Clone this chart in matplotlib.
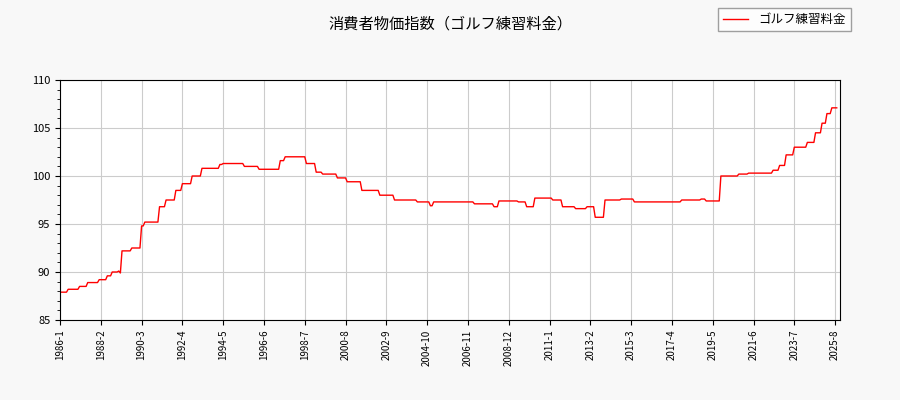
import numpy as np
import matplotlib
matplotlib.use('Agg')
import matplotlib.pyplot as plt

plt.rcParams['font.family'] = ['Noto Sans CJK JP', 'DejaVu Sans']

# 値が変わった月 (年, 月) と指数値
change_months = [(1986,1),(1986,6),(1987,1),(1987,6),(1988,1),(1988,6),(1988,9),(1989,1),
                 (1989,2),(1989,3),(1989,9),(1990,3),(1990,5),(1991,2),(1991,6),(1991,12),
                 (1992,4),(1992,10),(1993,4),(1994,3),(1994,5),(1995,6),(1996,3),(1997,4),
                 (1997,7),(1998,8),(1999,2),(1999,6),(2000,3),(2000,9),(2001,6),(2002,5),
                 (2003,2),(2004,4),(2004,12),(2005,2),(2007,3),(2008,3),(2008,6),(2009,6),
                 (2009,11),(2010,4),(2011,3),(2011,9),(2012,5),(2012,12),(2013,5),(2013,11),
                 (2014,9),(2015,5),(2017,10),(2018,10),(2019,1),(2019,10),(2020,9),(2021,3),
                 (2022,6),(2022,10),(2023,2),(2023,7),(2024,3),(2024,8),(2024,12),(2025,3),
                 (2025,6)]
change_values = [87.9,88.2,88.5,88.9,89.2,89.6,90.0,90.1,
                 89.9,92.2,92.5,94.8,95.2,96.8,97.5,98.5,
                 99.2,100.0,100.8,101.2,101.3,101.0,100.7,101.6,
                 102.0,101.3,100.4,100.2,99.8,99.4,98.5,98.0,
                 97.5,97.3,96.9,97.3,97.1,96.8,97.4,97.3,
                 96.8,97.7,97.5,96.8,96.6,96.8,95.7,97.5,
                 97.6,97.3,97.5,97.6,97.4,100.0,100.2,100.3,
                 100.6,101.1,102.2,103.0,103.5,104.5,105.5,106.5,
                 107.1]
last_month = (2025, 9)

def idx(ym):
    return (ym[0] - 1986) * 12 + ym[1] - 1

n = idx(last_month) + 1
values = np.empty(n)
starts = [idx(m) for m in change_months] + [n]
for i, v in enumerate(change_values):
    values[starts[i]:starts[i + 1]] = v
x = np.arange(n)

tick_pos = np.arange(0, n, 25)
tick_labels = [f"{1986 + p // 12}-{p % 12 + 1}" for p in tick_pos]

fig = plt.figure(figsize=(9, 4), dpi=100, facecolor='#f8f8f8')
ax = fig.add_axes([60/900, 80/400, 780/900, 240/400])
ax.plot(x, values, color='red', lw=1, label='ゴルフ練習料金')
ax.set_xlim(0, 478)
ax.set_ylim(85, 110)
ax.set_yticks(np.arange(85, 111, 5))
ax.set_yticks(np.arange(85, 110, 1), minor=True)
ax.set_xticks(tick_pos)
ax.set_xticklabels(tick_labels, rotation=90, fontsize=7)
ax.tick_params(axis='y', labelsize=8)
ax.grid(True, color='#cccccc', lw=0.8)
ax.set_axisbelow(True)
fig.suptitle('消費者物価指数（ゴルフ練習料金）', y=0.96, fontsize=11)
fig.legend(loc='upper right', bbox_to_anchor=(0.952, 0.995), fontsize=9,
           frameon=True, fancybox=False, edgecolor='#888888')
fig.savefig('out.png', facecolor=fig.get_facecolor())
